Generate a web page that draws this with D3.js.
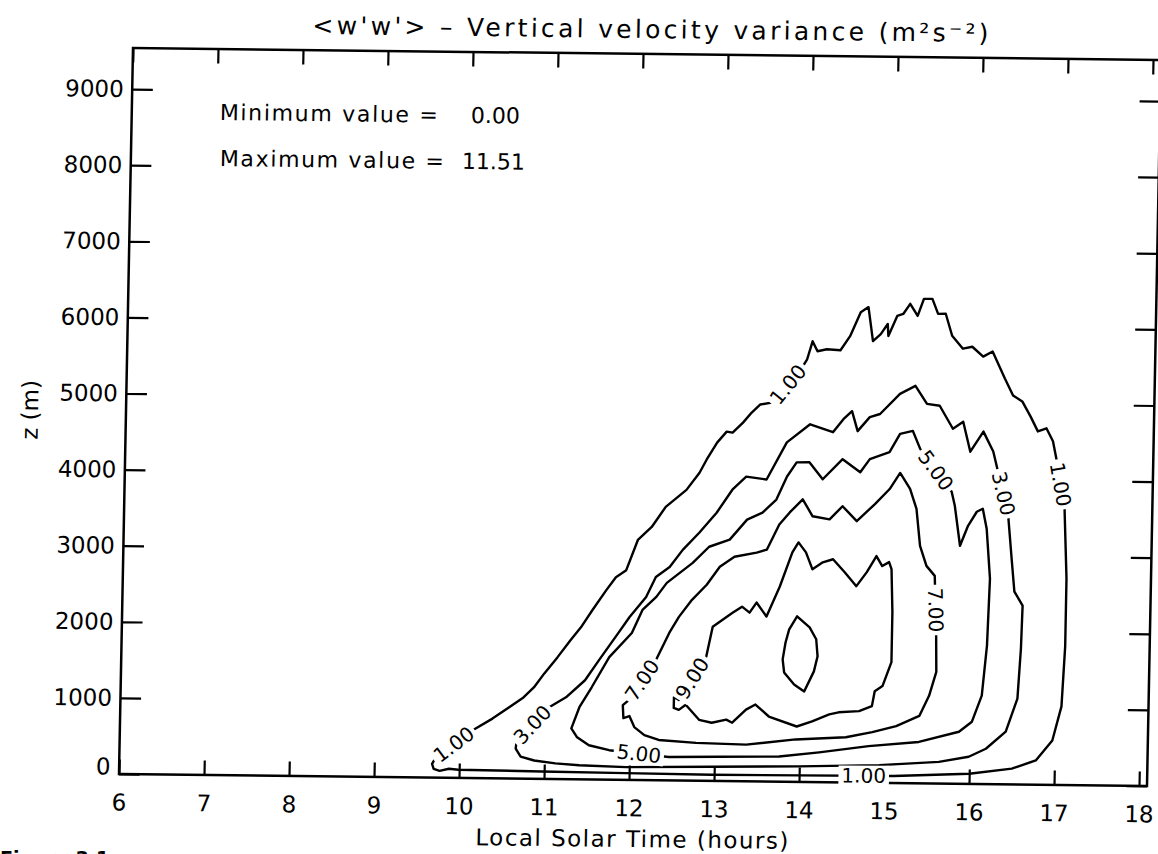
<html>
  <head>
    <meta charset="utf-8">
    <title>w'w' contour</title>
    <style>
      body { margin: 0; background: #fff; }
      text { font-family: "DejaVu Sans", sans-serif; fill: #000; }
    </style>
  </head>
  <body>
    <svg id="vis" width="1158" height="854"></svg>
    <script src="https://d3js.org/d3.v7.min.js"></script>
    <script>
      // axis ticks
      const xTicks = [6, 7, 8, 9, 10, 11, 12, 13, 14, 15, 16, 17, 18]
      const yTicks = [0, 1000, 2000, 3000, 4000, 5000, 6000, 7000, 8000, 9000]

      // contour levels and their traced lines: [local solar time (h), z (m)]
      const levels = [1, 3, 5, 7, 9, 11]
      const line1 = [[9.72,260],[9.68,180],[9.70,116],[9.77,90],[9.88,119],[9.99,108],[10.97,98],[11.96,89],[12.97,81],[14.0,86],[15.11,92],[16.0,134],[16.5,208],[16.78,319],[16.97,584],[17.07,1033],[17.10,1822],[17.10,2716],[17.06,3662],[16.96,4252],[16.91,4514],[16.83,4684],[16.73,4642],[16.64,4838],[16.54,5033],[16.43,5110],[16.33,5331],[16.18,5684],[16.07,5616],[15.94,5744],[15.83,5717],[15.70,5885],[15.62,6173],[15.53,6171],[15.46,6367],[15.36,6365],[15.29,6141],[15.20,6298],[15.12,6164],[15.05,6137],[14.95,5872],[14.94,6030],[14.86,5896],[14.77,5803],[14.71,6249],[14.62,6181],[14.50,5864],[14.39,5678],[14.23,5689],[14.12,5661],[14.06,5791],[14.0,5554],[13.95,5461],[13.61,4982],[13.46,4953],[13.36,4846],[13.26,4712],[13.14,4579],[13.07,4591],[12.96,4445],[12.84,4219],[12.76,4046],[12.61,3820],[12.37,3593],[12.21,3327],[12.05,3154],[11.92,2756],[11.80,2662],[11.69,2490],[11.53,2224],[11.40,1998],[11.28,1826],[11.13,1599],[10.98,1387],[10.86,1201],[10.74,1068],[10.57,933],[10.38,785],[10.14,623]]
      const line3 = [[11.02,927],[10.67,501],[10.66,395],[10.72,291],[10.88,241],[11.13,206],[11.41,185],[11.96,168],[12.97,186],[13.99,204],[14.94,233],[15.64,285],[15.99,357],[16.19,465],[16.42,694],[16.55,1129],[16.58,1787],[16.59,2352],[16.49,2534],[16.45,2968],[16.40,3532],[16.27,4108],[16.21,4370],[16.09,4631],[15.94,4365],[15.85,4758],[15.73,4664],[15.57,4964],[15.42,4987],[15.28,5222],[15.10,5114],[14.87,4846],[14.75,4804],[14.61,4618],[14.54,4880],[14.44,4773],[14.32,4600],[14.05,4700],[13.78,4459],[13.55,3968],[13.31,4003],[13.15,3829],[12.97,3524],[12.77,3258],[12.58,3031],[12.43,2805],[12.27,2671],[12.16,2406],[11.97,2141],[11.84,1928],[11.62,1569],[11.46,1303],[11.24,1076]]
      const line5 = [[11.31,669],[11.40,948],[11.54,1212],[11.74,1610],[12.0,1931],[12.12,2235],[12.28,2409],[12.40,2595],[12.70,2862],[12.89,3076],[13.13,3173],[13.33,3438],[13.51,3533],[13.67,3707],[13.79,4011],[13.90,4198],[14.05,4201],[14.21,3980],[14.44,4247],[14.65,4079],[14.76,4252],[14.99,4348],[15.11,4588],[15.26,4629],[15.35,4394],[15.73,3835],[15.77,3652],[15.84,3128],[15.93,3391],[16.03,3577],[16.10,3618],[16.15,3356],[16.20,2700],[16.18,1820],[16.13,1162],[16.02,818],[15.87,684],[15.40,544],[14.81,481],[14.23,392],[13.76,331],[13.05,318],[12.46,308],[11.76,388],[11.52,450],[11.38,552]]
      const line7 = [[12.29,1580],[12.44,1938],[12.55,2150],[12.70,2376],[12.87,2576],[13.02,2815],[13.19,2949],[13.45,3007],[13.57,3048],[13.71,3380],[13.83,3539],[13.98,3713],[14.10,3492],[14.30,3455],[14.45,3629],[14.62,3435],[14.83,3662],[15.0,3862],[15.12,4075],[15.24,3867],[15.32,3605],[15.37,3120],[15.45,2858],[15.55,2728],[15.58,1940],[15.59,1467],[15.51,1151],[15.40,886],[15.13,749],[14.85,666],[14.54,595],[13.95,558],[13.37,482],[12.78,498],[12.34,530],[12.17,592],[12.05,695],[11.99,839],[11.92,812],[11.91,982],[11.98,1049]]
      const line9 = [[12.88,1630],[12.95,2025],[13.18,2213],[13.29,2294],[13.38,2217],[13.46,2350],[13.58,2168],[13.73,2565],[13.87,3015],[13.94,3147],[14.03,3017],[14.11,2795],[14.23,2889],[14.35,2931],[14.49,2762],[14.63,2581],[14.75,2767],[14.86,2979],[14.93,2849],[15.01,2902],[15.04,2811],[15.06,2246],[15.06,1589],[14.96,1272],[14.87,1204],[14.84,1007],[14.69,939],[14.45,921],[14.34,893],[14.14,798],[13.96,728],[13.63,855],[13.47,1010],[13.36,942],[13.20,768],[13.13,807],[12.96,764],[12.81,801],[12.65,996],[12.57,928],[12.51,953],[12.51,1098],[12.57,1059]]
      const line11 = [[13.94,2175],[14.09,2032],[14.17,1877],[14.19,1653],[14.15,1455],[14.04,1190],[13.92,1280],[13.80,1436],[13.78,1607],[13.81,1830],[13.85,2002]]

      // contour labels
      const labelLevels = [1, 3, 5, 7, 9, 1, 5, 3, 7, 1, 1]
      const labelHours = [9.93, 10.85, 12.11, 12.13, 12.72, 13.78, 15.54, 16.34, 15.57, 17.01, 14.76]
      const labelHeights = [441, 714, 348, 1315, 1345, 5220, 4115, 3820, 2280, 3950, 95]

      const minValue = 0.00, maxValue = 11.51

      const svg = d3.select('#vis')
      svg.append('rect').attr('width', 1158).attr('height', 854).attr('fill', '#fff')

      // the scanned page is slightly skewed
      const g = svg.append('g').attr('transform', 'matrix(1,0.0117,-0.0193,1,8.05,-7.49)')

      const x = d3.scaleLinear().domain([6, 18.094]).range([126, 1154])
      const y = d3.scaleLinear().domain([0, 9540]).range([780, 54])

      const fmt = d3.format('.2f')

      // axes, ticks pointing inward
      const styleAxis = sel => {
        sel.select('.domain').remove()
        sel.selectAll('line').attr('stroke', '#000').attr('stroke-width', 2.2)
        sel.selectAll('text').attr('font-size', 23).attr('font-family', '"DejaVu Sans", sans-serif')
      }
      g.append('g').attr('transform', 'translate(0,780)')
        .call(d3.axisBottom(x).tickValues(xTicks).tickSize(-14.5).tickPadding(20).tickFormat(d3.format('d')))
        .call(styleAxis)
      g.append('g').attr('transform', 'translate(0,54)')
        .call(d3.axisTop(x).tickValues(xTicks).tickSize(-14.5).tickFormat(''))
        .call(styleAxis)
      const yAxis = g.append('g').attr('transform', 'translate(126,0)')
        .call(d3.axisLeft(y).tickValues(yTicks).tickSize(-20.6).tickPadding(8.5).tickFormat(d3.format('d')))
        .call(styleAxis)
      yAxis.selectAll('.tick').filter(d => d === 0).select('text').attr('dy', '0.0em')
      g.append('g').attr('transform', 'translate(1154,0)')
        .call(d3.axisRight(y).tickValues(yTicks).tickSize(-20.6).tickFormat(''))
        .call(styleAxis)

      g.append('rect')
        .attr('x', x(6)).attr('y', y(9540))
        .attr('width', x(18.094) - x(6)).attr('height', y(0) - y(9540))
        .attr('fill', 'none').attr('stroke', '#000').attr('stroke-width', 2.5)

      // contour lines
      const contours = [line1, line3, line5, line7, line9, line11].map((pts, i) => ({ level: levels[i], pts }))
      const path = d3.line().x(d => x(d[0])).y(d => y(d[1])).curve(d3.curveLinearClosed)
      g.selectAll('path.contour')
        .data(contours)
        .join('path')
        .attr('class', 'contour')
        .attr('d', d => path(d.pts))
        .attr('fill', 'none')
        .attr('stroke', '#000')
        .attr('stroke-width', 2.4)
        .attr('stroke-linejoin', 'round')

      // label angle follows the nearest segment of its contour
      function segmentAngle(pts, px, py) {
        let best = Infinity, ang = 0
        for (let i = 0; i < pts.length; i++) {
          const a = pts[i], b = pts[(i + 1) % pts.length]
          const ax = x(a[0]), ay = y(a[1]), dx = x(b[0]) - ax, dy = y(b[1]) - ay
          const len = dx * dx + dy * dy
          const u = len ? Math.max(0, Math.min(1, ((px - ax) * dx + (py - ay) * dy) / len)) : 0
          const dist = Math.hypot(ax + u * dx - px, ay + u * dy - py)
          if (dist < best) { best = dist; ang = Math.atan2(dy, dx) * 180 / Math.PI }
        }
        if (ang > 90) ang -= 180
        if (ang <= -90) ang += 180
        return ang
      }

      const labels = labelLevels.map((lv, i) => ({ lv, t: labelHours[i], z: labelHeights[i] }))
      const lab = g.selectAll('g.clabel')
        .data(labels)
        .join('g')
        .attr('class', 'clabel')
        .attr('transform', d => {
          const c = contours.find(c => c.level === d.lv)
          const px = x(d.t), py = y(d.z)
          return 'translate(' + px + ',' + py + ') rotate(' + segmentAngle(c.pts, px, py) + ')'
        })
      lab.append('rect').attr('fill', '#fff')
      lab.append('text')
        .text(d => fmt(d.lv))
        .attr('font-size', 20)
        .attr('text-anchor', 'middle')
        .attr('dy', '0.36em')
      lab.each(function () {
        const bb = d3.select(this).select('text').node().getBBox()
        d3.select(this).select('rect')
          .attr('x', bb.x - 3).attr('y', bb.y + 2)
          .attr('width', bb.width + 6).attr('height', bb.height - 4)
      })

      // titles and notes
      g.append('text')
        .attr('x', 643).attr('y', 38)
        .attr('text-anchor', 'middle')
        .attr('font-size', 25)
        .attr('textLength', 676).attr('lengthAdjust', 'spacing')
        .text("<w'w'> \u2013 Vertical velocity variance (m\u00b2s\u207b\u00b2)")
      g.append('text')
        .attr('x', 640).attr('y', 847)
        .attr('text-anchor', 'middle')
        .attr('font-size', 23)
        .attr('textLength', 313).attr('lengthAdjust', 'spacing')
        .text('Local Solar Time (hours)')
      g.append('text')
        .attr('transform', 'translate(38,417) rotate(-90)')
        .attr('text-anchor', 'middle')
        .attr('font-size', 23)
        .text('z (m)')

      g.append('text').attr('x', 214).attr('y', 125).attr('font-size', 22)
        .attr('textLength', 218).attr('lengthAdjust', 'spacing').text('Minimum value =')
      g.append('text').attr('x', 514).attr('y', 125).attr('font-size', 22)
        .attr('text-anchor', 'end').text(fmt(minValue))
      g.append('text').attr('x', 215).attr('y', 171).attr('font-size', 22)
        .attr('textLength', 224).attr('lengthAdjust', 'spacing').text('Maximum value =')
      g.append('text').attr('x', 520).attr('y', 171).attr('font-size', 22)
        .attr('text-anchor', 'end').text(fmt(maxValue))

      // caption of the page, cut by the bottom edge as in the scan
      svg.append('text').attr('x', 0).attr('y', 865)
        .attr('font-size', 19).attr('font-weight', 'bold')
        .text('Figure 3.1.')
    </script>
  </body>
</html>
